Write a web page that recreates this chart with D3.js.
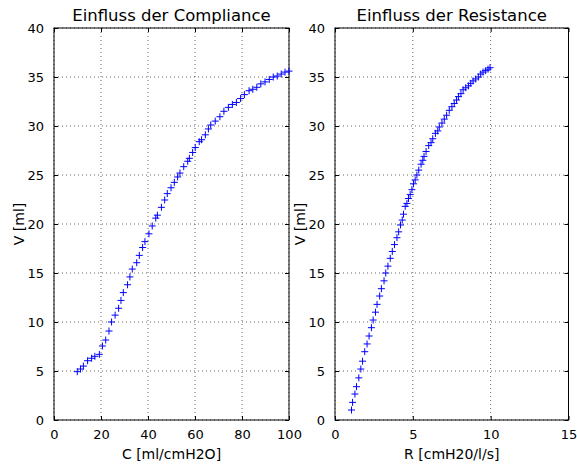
<!DOCTYPE html>
<html>
<head>
<meta charset="utf-8">
<script src="https://cdn.jsdelivr.net/npm/d3@7"></script>
<style>
  body { margin: 0; background: #fff; }
  svg text { font-family: "DejaVu Sans", sans-serif; fill: #000; }
</style>
</head>
<body>
<svg id="chart" width="577" height="465"></svg>
<script>
// Compliance panel
var complianceC = [9.9,11.3,12.5,14.3,16,17.4,19.3,20.6,22,23.4,24.5,26,27.5,28.5,29.5,31.3,32.3,33.3,35.2,36.3,37.7,38.7,40.4,41.8,43.3,44,45.7,47.1,48.2,49.8,51.2,52.6,53.6,55.2,56.9,57.6,59,60.1,61.8,62.8,64.4,65.7,66.7,68.6,70.6,72.3,74.2,75.9,77.6,79.4,81,83,84.6,86.3,88,89.8,91.6,93.3,95,96.7,98.3,100];
var complianceV = [4.93,5.2,5.5,6.05,6.3,6.5,6.7,7.55,8.16,9.08,10.0,10.7,11.4,12.2,13.0,13.8,14.6,15.4,16.05,16.8,17.6,18.2,19.0,19.8,20.6,20.9,21.7,22.45,23.1,23.7,24.25,24.8,25.2,25.85,26.4,26.7,27.3,27.8,28.4,28.6,29.1,29.7,30.1,30.5,30.95,31.5,31.9,32.2,32.4,32.8,33.2,33.6,33.75,33.95,34.3,34.5,34.75,35.0,35.1,35.3,35.5,35.6];

// Resistance panel
var resistanceR = [1.06,1.13,1.28,1.38,1.53,1.66,1.77,1.91,2.06,2.19,2.34,2.45,2.6,2.7,2.87,2.98,3.15,3.26,3.4,3.55,3.68,3.82,3.98,4.09,4.21,4.32,4.4,4.51,4.62,4.72,4.83,4.94,5.04,5.15,5.26,5.38,5.53,5.64,5.72,5.85,6.02,6.17,6.28,6.45,6.6,6.7,6.87,7.02,7.17,7.34,7.51,7.66,7.81,7.93,8.09,8.23,8.4,8.57,8.72,8.87,9.04,9.21,9.36,9.51,9.68,9.83,9.96];
var resistanceV = [1.02,1.8,2.65,3.4,4.3,5.2,6.0,6.97,7.76,8.57,9.42,10.2,11.0,11.8,12.65,13.4,14.2,15.0,15.7,16.5,17.2,17.9,18.6,19.2,19.9,20.4,21.0,21.8,22.1,22.6,23.0,23.5,24.1,24.5,25.0,25.5,26.1,26.5,26.9,27.4,28.0,28.3,28.7,29.25,29.5,29.9,30.3,30.7,31.1,31.6,31.97,32.3,32.65,33.0,33.3,33.7,33.9,34.1,34.35,34.6,34.8,35.0,35.3,35.5,35.65,35.8,35.95];

var complianceTicks = [0,20,40,60,80,100];
var resistanceTicks = [0,5,10,15];
var vTicks = [0,5,10,15,20,25,30,35,40];

var svg = d3.select("#chart");

function drawPanel(opt) {
    var xScale = d3.scaleLinear().domain(opt.xDomain).range([opt.left, opt.right]);
    var yScale = d3.scaleLinear().domain([0, 40]).range([opt.bottom, opt.top]);
    var w = opt.right - opt.left, h = opt.bottom - opt.top;

    var g = svg.append("g");

    //grid, dotted like matplotlib classic
    g.selectAll(".gx").data(opt.xTicks).enter().append("line")
        .attr("x1", function(d) { return xScale(d); })
        .attr("x2", function(d) { return xScale(d); })
        .attr("y1", opt.top).attr("y2", opt.bottom)
        .attr("stroke", "#000").attr("stroke-width", 0.6)
        .attr("stroke-dasharray", "1,3");
    g.selectAll(".gy").data(vTicks).enter().append("line")
        .attr("y1", function(d) { return yScale(d); })
        .attr("y2", function(d) { return yScale(d); })
        .attr("x1", opt.left).attr("x2", opt.right)
        .attr("stroke", "#000").attr("stroke-width", 0.6)
        .attr("stroke-dasharray", "1,3");

    //axes with inward ticks on all sides
    var fmt = d3.format("d");
    g.append("g").attr("transform", "translate(0," + opt.bottom + ")")
        .call(d3.axisBottom(xScale).tickValues(opt.xTicks).tickFormat(fmt).tickSizeInner(-4).tickSizeOuter(0).tickPadding(10));
    g.append("g").attr("transform", "translate(0," + opt.top + ")")
        .call(d3.axisTop(xScale).tickValues(opt.xTicks).tickFormat("").tickSizeInner(-4).tickSizeOuter(0));
    g.append("g").attr("transform", "translate(" + opt.left + ",0)")
        .call(d3.axisLeft(yScale).tickValues(vTicks).tickFormat(fmt).tickSizeInner(-4).tickSizeOuter(0).tickPadding(10));
    g.append("g").attr("transform", "translate(" + opt.right + ",0)")
        .call(d3.axisRight(yScale).tickValues(vTicks).tickFormat("").tickSizeInner(-4).tickSizeOuter(0));
    g.selectAll(".domain").remove();
    g.selectAll(".tick text").style("font-family", "DejaVu Sans").style("font-size", "13px").attr("fill", "#000");
    g.selectAll(".tick line").attr("stroke", "#000");

    g.append("rect")
        .attr("x", opt.left).attr("y", opt.top)
        .attr("width", w).attr("height", h)
        .attr("fill", "none").attr("stroke", "#000").attr("stroke-width", 1);

    //plus markers
    var pts = opt.xs.map(function(d, i) { return {x: d, y: opt.ys[i]}; });
    var m = 3.5;
    g.selectAll(".mk").data(pts).enter().append("path")
        .attr("d", function(d) {
            var cx = xScale(d.x), cy = yScale(d.y);
            return "M" + (cx - m) + "," + cy + "H" + (cx + m) + "M" + cx + "," + (cy - m) + "V" + (cy + m);
        })
        .attr("stroke", "#0000ff").attr("stroke-width", 1).attr("fill", "none");

    g.append("text")
        .attr("x", opt.left + w / 2).attr("y", opt.top - 7)
        .attr("text-anchor", "middle").style("font-size", "16.5px")
        .text(opt.title);
    g.append("text")
        .attr("x", opt.left + w / 2).attr("y", opt.bottom + 39)
        .attr("text-anchor", "middle").style("font-size", "14px")
        .text(opt.xLabel);
    g.append("text")
        .attr("transform", "translate(" + (opt.left - 30) + "," + (opt.top + h / 2) + ") rotate(-90)")
        .attr("text-anchor", "middle").style("font-size", "14px")
        .text("V [ml]");
}

drawPanel({
    left: 54, right: 289, top: 28, bottom: 420,
    xDomain: [0, 100], xTicks: complianceTicks,
    xs: complianceC, ys: complianceV,
    title: "Einfluss der Compliance", xLabel: "C [ml/cmH2O]"
});
drawPanel({
    left: 335, right: 568.5, top: 28, bottom: 420,
    xDomain: [0, 15], xTicks: resistanceTicks,
    xs: resistanceR, ys: resistanceV,
    title: "Einfluss der Resistance", xLabel: "R [cmH20/l/s]"
});
</script>
</body>
</html>
